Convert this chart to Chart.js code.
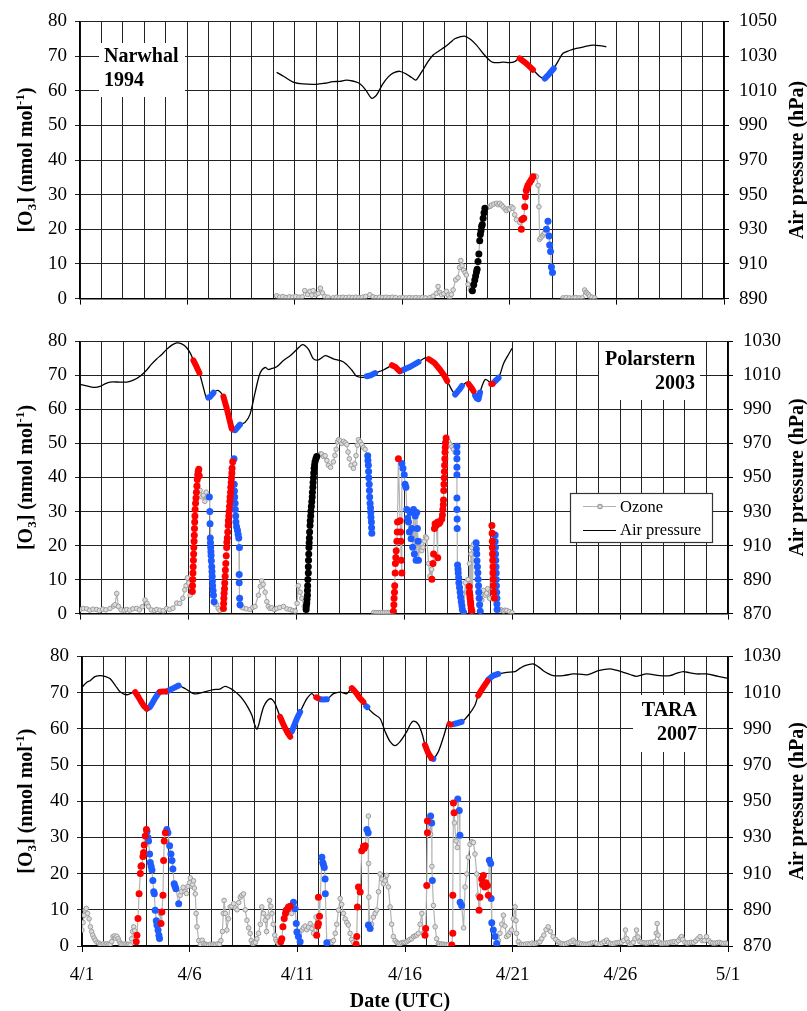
<!DOCTYPE html>
<html>
<head>
<meta charset="UTF-8">
<script src="https://cdn.jsdelivr.net/npm/chart.js"></script>
<style>
    body { margin: 0; background: #fff; width: 807px; height: 1011px; position: relative; overflow: hidden; }
    canvas { position: absolute; left: 0; }
</style>
</head>
<body>
<canvas id="narwhalChart" width="807" height="320" style="top:0px"></canvas>
<canvas id="polarsternChart" width="807" height="315" style="top:320px"></canvas>
<canvas id="taraChart" width="807" height="376" style="top:635px"></canvas>

<script>
    // x values are days after 4/1 00 UTC, ozone in nmol/mol, pressure in hPa
    const dateLabels = ['4/1', '4/6', '4/11', '4/16', '4/21', '4/26', '5/1'];

    // ---- Narwhal 1994 ----
    const narwhalPressure = [[9.16,1020.6],[9.5,1018.2],[9.93,1015],[10.4,1013.9],[11.02,1013.7],[11.4,1014.3],[11.79,1015.2],[12.1,1015.4],[12.41,1016.1],[12.7,1015.6],[12.96,1014.6],[13.15,1012.8],[13.34,1009.9],[13.58,1005.6],[13.75,1006.6],[13.89,1009],[14.1,1013.8],[14.36,1018],[14.6,1020.3],[14.9,1021.2],[15.2,1019.6],[15.45,1017.6],[15.64,1016.1],[15.8,1018.6],[15.98,1022.1],[16.2,1026.6],[16.45,1030.6],[16.7,1032.8],[17.0,1035.3],[17.25,1037.8],[17.46,1040],[17.7,1041.1],[17.92,1041.5],[18.2,1039.5],[18.47,1036.3],[18.8,1031.2],[19.09,1027.4],[19.24,1026.3],[19.5,1026.2],[19.71,1026.5],[20.0,1026.2],[20.25,1026.8],[20.48,1028.7],[20.8,1025.6],[21.1,1022.1],[21.4,1018.4],[21.65,1017],[21.85,1019.6],[22.07,1022.8],[22.3,1027.6],[22.5,1031.6],[22.8,1033.2],[23.12,1034.4],[23.5,1035.4],[23.9,1036.3],[24.2,1036],[24.52,1035.3]];
    const narwhalRedP = [[[20.48,1028.7],[20.8,1025.6],[21.1,1022.1]]];
    const narwhalBlueP = [[[21.65,1017],[21.85,1019.6],[22.07,1022.8]]];
    const narwhalOzone = [[9.16,0.8],[9.3,0.4],[9.45,0.6],[9.6,0.3],[9.75,0.5],[9.9,0.4],[10.05,0.6],[10.2,0.4],[10.35,0.5],[10.47,2.3],[10.6,1.2],[10.71,2.1],[10.8,1.0],[10.86,2.3],[11.0,1.1],[11.1,1.5],[11.2,3.0],[11.3,1.6],[11.4,0.6],[11.55,0.4],[11.79,0.2],[11.95,0.4],[12.1,0.3],[12.25,0.4],[12.4,0.3],[12.55,0.4],[12.7,0.3],[12.85,0.4],[13.0,0.3],[13.15,0.4],[13.3,0.6],[13.5,1.1],[13.65,0.5],[13.8,0.3],[13.95,0.4],[14.1,0.3],[14.25,0.4],[14.4,0.3],[14.55,0.4],[14.7,0.3],[14.9,0.2],[15.05,0.3],[15.2,0.2],[15.35,0.3],[15.5,0.2],[15.65,0.3],[15.8,0.2],[15.95,0.3],[16.1,0.2],[16.3,0.3],[16.45,0.7],[16.6,1.5],[16.68,3.5],[16.76,1.8],[16.84,1.1],[16.95,1.4],[17.07,2.1],[17.15,1.0],[17.22,0.2],[17.3,1.2],[17.38,2.5],[17.5,5.4],[17.61,6.0],[17.68,9.0],[17.74,11.0],[17.8,9.5],[17.87,8.2],[17.94,7.5],[18.0,6.8],[18.08,4.1],[18.19,2.5],[19.01,26.4],[19.1,26.6],[19.17,27.0],[19.28,27.3],[19.4,27.5],[19.48,27.1],[19.55,27.5],[19.63,27.0],[19.71,26.5],[19.8,25.9],[19.86,25.4],[19.94,25.9],[20.02,25.8],[20.1,26.5],[20.17,26.1],[20.25,24.2],[20.33,22.8],[20.48,22.0],[21.2,35.4],[21.26,35.2],[21.34,32.7],[21.38,26.5],[21.41,17.1],[21.47,17.6],[21.54,18.1],[21.6,18.6],[21.65,19.0],[22.25,null],[22.5,0.2],[22.65,0.3],[22.8,0.2],[22.97,0.2],[23.1,0.3],[23.25,0.2],[23.4,0.2],[23.51,2.5],[23.57,1.8],[23.62,1.6],[23.68,1.2],[23.74,0.7],[23.85,0.4],[23.98,0.2]];
    const narwhalRedO3 = [[20.56,20.0],[20.59,22.8],[20.67,23.2],[20.72,26.5],[20.75,29.4],[20.79,31.2],[20.83,32.0],[20.87,32.7],[20.95,33.6],[21.03,34.3],[21.1,35.2]];
    const narwhalBlueO3 = [[21.73,20.0],[21.8,22.3],[21.85,18.1],[21.88,15.5],[21.92,13.6],[21.96,9.1],[22.01,7.5]];
    const narwhalBlackO3 = [[18.28,2.3],[18.34,4.0],[18.39,5.4],[18.43,6.5],[18.47,7.7],[18.5,8.5],[18.54,10.7],[18.58,12.9],[18.62,16.7],[18.65,18.5],[18.68,19.6],[18.71,20.9],[18.74,21.4],[18.78,23.2],[18.82,24.8],[18.86,26.1]];

    // ---- Polarstern 2003 ----
    const polarPressure = [[0,1004.8],[0.31,1003.9],[0.62,1003],[0.93,1003.5],[1.15,1005],[1.39,1006.1],[1.85,1006.1],[2.16,1006.1],[2.47,1007.2],[2.78,1009.5],[3.09,1013.2],[3.3,1016.5],[3.55,1019.7],[3.8,1022.5],[4.01,1025.3],[4.25,1027.8],[4.48,1029.1],[4.71,1028.5],[4.94,1026.3],[5.13,1022.5],[5.25,1018.8],[5.4,1015],[5.53,1011.4],[5.71,1003],[5.87,996.4],[6.02,997.4],[6.18,999.8],[6.3,1001],[6.41,1001.1],[6.61,998.3],[6.79,990.8],[7.02,978.7],[7.18,977.8],[7.41,981.1],[7.64,982.4],[7.87,987.1],[8.11,1000.2],[8.34,1011.4],[8.57,1014.7],[8.72,1013.5],[8.88,1014.1],[9.11,1015.1],[9.42,1018.8],[9.73,1021.6],[10.04,1025.3],[10.31,1028.1],[10.58,1025.3],[10.81,1019.7],[11.04,1019.2],[11.35,1021.6],[11.55,1020.8],[11.73,1019.7],[12.2,1017.9],[12.58,1013.2],[12.81,1009.5],[13.12,1008.9],[13.35,1009.8],[13.66,1011.4],[14.05,1013.2],[14.3,1015],[14.44,1016],[14.6,1015],[14.8,1012.5],[15.05,1013.8],[15.29,1015.1],[15.67,1017.9],[15.98,1020.3],[16.14,1019.6],[16.4,1017.5],[16.68,1013.2],[17.0,1006.7],[17.23,1001.1],[17.39,998.7],[17.55,1001.5],[17.7,1003.9],[17.93,1006.1],[18.14,1002.4],[18.37,996.4],[18.45,996],[18.53,1000.5],[18.76,1007.6],[18.99,1005.8],[19.07,1004.4],[19.15,1005.8],[19.38,1008.6],[19.61,1017],[19.8,1021.5],[20.0,1025.9]];
    const polarRedP = [[[5.25,1018.8],[5.4,1015],[5.53,1011.4]],[[6.64,997.5],[6.79,990.8],[6.92,984],[7.02,978.7]],[[14.44,1016],[14.6,1015],[14.78,1012.7]],[[16.14,1019.6],[16.4,1017.5],[16.68,1013.2],[16.86,1010],[17.0,1006.7]],[[17.99,1005],[18.14,1002.4],[18.22,1000.8]],[[19.04,1005],[19.1,1005]]];
    const polarBlueP = [[[5.94,997],[6.02,997.4],[6.18,999.8]],[[7.1,978],[7.18,977.8],[7.41,981.1]],[[13.28,1009.5],[13.45,1010],[13.66,1011.4]],[[14.82,1012.4],[15.05,1013.8],[15.29,1015.1],[15.67,1017.9]],[[17.37,998.8],[17.55,1001.5],[17.68,1003.8]],[[18.29,998.2],[18.37,996.4],[18.45,996],[18.52,1000]],[[19.15,1005.8],[19.25,1007],[19.38,1008.6]]];
    const polarOzone = [[0,1.2],[0.15,1.5],[0.31,1.4],[0.45,1.0],[0.6,1.3],[0.77,1.2],[0.9,0.9],[1.05,1.3],[1.2,1.1],[1.39,1.5],[1.55,2.2],[1.62,2.6],[1.7,5.9],[1.78,2.1],[1.9,1.1],[2.05,0.9],[2.16,1.2],[2.3,1.0],[2.45,1.4],[2.62,1.5],[2.75,1.1],[2.88,2.0],[3.01,4.0],[3.1,3.0],[3.17,2.1],[3.3,1.1],[3.45,0.9],[3.55,1.2],[3.7,1.0],[3.85,0.8],[4.01,1.5],[4.15,1.2],[4.3,1.6],[4.48,3.1],[4.62,3.0],[4.76,4.5],[4.85,7.0],[4.91,8.2],[4.97,10.5],[5.03,9.0],[5.1,5.4],[5.56,36.2],[5.64,34.3],[5.71,34.8],[5.78,33.0],[5.84,35.7],[5.9,34.3],[6.25,2.8],[6.33,2.6],[6.4,1.5],[6.48,0.9],[7.48,1.9],[7.56,1.7],[7.7,1.4],[7.87,1.2],[8.0,1.8],[8.1,2.1],[8.26,5.4],[8.35,8.0],[8.41,9.6],[8.48,8.6],[8.57,6.3],[8.65,3.5],[8.72,2.1],[8.8,1.5],[8.88,1.7],[9.0,1.2],[9.11,1.5],[9.25,1.8],[9.42,2.1],[9.58,1.4],[9.73,1.2],[9.85,0.9],[9.96,0.7],[10.05,3.0],[10.11,8.2],[10.19,6.3],[10.27,4.5],[10.38,2.1],[11.04,46.5],[11.12,46.9],[11.19,46.9],[11.27,46.2],[11.35,46.4],[11.43,45.0],[11.5,43.6],[11.6,43.0],[11.73,44.6],[11.8,46.5],[11.86,48.3],[11.92,50.5],[11.97,51.1],[12.05,50.8],[12.12,50.0],[12.2,50.6],[12.28,50.2],[12.35,49.7],[12.41,47.5],[12.47,45.5],[12.55,43.6],[12.66,42.7],[12.72,44.0],[12.78,46.4],[12.84,49.5],[12.89,51.1],[12.97,50.5],[13.05,49.7],[13.12,48.8],[13.2,48.3],[13.55,null],[13.59,0.3],[13.7,0.3],[13.8,0.3],[13.9,0.3],[14.0,0.3],[14.1,0.3],[14.2,0.3],[14.3,0.3],[14.4,0.3],[15.75,21.3],[15.82,18.5],[15.88,19.5],[15.94,21.3],[16.0,22.6],[16.05,22.2],[16.14,14.7],[16.2,11.0],[16.28,13.0],[17.06,50.6],[17.14,49.7],[17.22,49.0],[17.29,48.3],[17.37,47.4],[17.84,9.1],[17.91,6.3],[17.97,10.0],[18.03,14.7],[18.1,17.5],[18.14,19.4],[18.22,20.3],[18.6,4.0],[18.68,6.8],[18.76,5.4],[18.82,6.0],[18.87,7.3],[18.96,4.5],[19.45,1.2],[19.53,1.0],[19.61,0.7],[19.68,1.0],[19.76,0.9],[19.88,0.6],[20.0,0.3]];
    const polarRedO3 = [[5.2,6.5],[5.21,8.2],[5.22,10],[5.23,11.9],[5.24,13.8],[5.25,15.7],[5.26,17.5],[5.27,19.4],[5.28,21.3],[5.29,23],[5.3,25],[5.31,26.9],[5.32,28.7],[5.33,30.6],[5.35,32.4],[5.37,34],[5.39,35.7],[5.41,37.5],[5.43,39.4],[5.45,40.8],[5.47,41.8],[5.5,42.4],[5.52,40.5],[6.64,1.5],[6.65,3],[6.66,4.5],[6.67,6],[6.69,7.3],[6.7,9],[6.72,11.0],[6.73,12.8],[6.75,14.7],[6.77,17],[6.79,19.4],[6.8,21],[6.82,22.2],[6.84,24],[6.86,25.9],[6.87,27.3],[6.89,28.7],[6.9,30],[6.92,31.5],[6.94,33],[6.95,34.3],[6.97,35.7],[6.98,37.1],[7.0,38.5],[7.01,39.9],[7.03,41.3],[7.04,42.7],[7.07,44.6],[14.51,0.7],[14.53,2.6],[14.54,4.5],[14.56,6.3],[14.57,8.2],[14.59,11.9],[14.6,14.7],[14.62,16.5],[14.64,18.5],[14.67,21.3],[14.69,24],[14.7,26.9],[14.74,45.5],[14.82,27.3],[14.84,24],[14.85,21.3],[14.87,15.7],[14.9,11.9],[16.29,10.1],[16.34,14.7],[16.37,17.5],[16.41,25.0],[16.44,26.4],[16.5,26.0],[16.56,16.4],[16.56,26.9],[16.62,26.5],[16.67,26.9],[16.75,27.8],[16.78,29],[16.8,30.6],[16.82,32],[16.83,33.4],[16.84,36.2],[16.85,38],[16.86,39.9],[16.87,41.8],[16.88,43.6],[16.89,45.5],[16.9,47.4],[16.91,48.8],[16.92,50.2],[16.95,51.6],[18.02,8],[18.03,6.3],[18.05,5.4],[18.06,4.5],[18.08,3.5],[18.09,2.6],[18.11,1.6],[18.14,0.7],[19.07,25.9],[19.08,23.6],[19.09,21.3],[19.09,19.4],[19.1,17.5],[19.11,15.7],[19.12,13.8],[19.12,12],[19.13,10.1],[19.14,8.2],[19.15,6.3],[19.18,4.5]];
    const polarBlueO3 = [[5.99,34.3],[6.01,30],[6.02,26.4],[6.03,22.2],[6.04,20.8],[6.05,19.4],[6.06,18.2],[6.07,17.1],[6.08,15.5],[6.1,13.8],[6.11,12.4],[6.12,11.0],[6.13,9.6],[6.14,8.2],[6.16,6.8],[6.18,5.4],[6.21,3.5],[7.13,45.5],[7.14,38.0],[7.15,36],[7.16,34.3],[7.18,32.4],[7.19,30.6],[7.21,28.7],[7.22,26.9],[7.25,25.5],[7.29,24.5],[7.32,23.3],[7.35,22.2],[7.38,19.4],[7.37,11.5],[7.37,9.1],[7.39,4.5],[7.41,2.6],[13.32,46.4],[13.33,45],[13.35,43.6],[13.36,41.8],[13.37,39.9],[13.39,38],[13.4,36.2],[13.41,34.3],[13.43,32.4],[13.45,31],[13.46,29.7],[13.47,28.3],[13.49,26.9],[13.5,25.2],[13.51,23.6],[14.9,44.1],[14.95,42.7],[15.01,40.8],[15.05,38.0],[15.09,37.1],[15.13,30.6],[15.17,28.0],[15.21,26.9],[15.25,24.0],[15.29,29.7],[15.33,22.0],[15.36,25.0],[15.4,19.5],[15.44,30.6],[15.48,17.5],[15.52,28.7],[15.56,15.7],[15.59,29.7],[15.62,25.0],[15.65,21.3],[15.67,15.7],[17.45,49.2],[17.45,47.4],[17.45,45.5],[17.45,43],[17.45,40.8],[17.45,34],[17.45,30.6],[17.46,27.8],[17.46,25.0],[17.48,14.3],[17.5,13],[17.51,11.9],[17.53,10.5],[17.54,9.1],[17.57,7.7],[17.6,6.3],[17.62,4.9],[17.65,3.5],[17.68,2.3],[17.7,1.2],[17.76,0.3],[18.34,20.8],[18.35,19],[18.37,17.5],[18.38,15.5],[18.4,13.8],[18.42,12],[18.43,10.1],[18.45,8.2],[18.46,6.3],[18.48,4.5],[18.5,2.6],[18.53,0.7],[19.22,23.1],[19.22,21.2],[19.23,19.4],[19.24,17.5],[19.25,15.7],[19.26,13.8],[19.27,11.9],[19.27,10],[19.28,8.2],[19.29,6.3],[19.3,4.5],[19.3,2.8],[19.31,1.2]];
    const polarBlackO3 = [[10.47,1.2],[10.48,2.2],[10.5,3.1],[10.51,4.2],[10.53,5.4],[10.53,6.8],[10.54,8.2],[10.55,10],[10.57,11.9],[10.57,13.8],[10.58,15.7],[10.59,17.5],[10.6,19.4],[10.61,20.8],[10.62,22.2],[10.63,24],[10.65,25.9],[10.66,27.3],[10.68,28.7],[10.69,30.1],[10.71,31.5],[10.73,32.9],[10.75,34.3],[10.76,35.7],[10.78,37.1],[10.79,38.5],[10.81,39.9],[10.82,41.3],[10.84,42.7],[10.86,43.7],[10.88,44.6],[10.92,45.5],[10.96,46.2]];

    // ---- TARA 2007 ----
    const taraPressure = [[0,1013],[0.2,1015.5],[0.39,1016.7],[0.6,1018.8],[0.85,1019.4],[1.1,1018.8],[1.31,1017.6],[1.55,1013.9],[1.78,1010.3],[2.09,1008.8],[2.4,1010.3],[2.47,1010.3],[2.71,1005.7],[3.02,1001.1],[3.25,1003.9],[3.56,1009.9],[3.79,1010.6],[3.94,1010.6],[4.25,1012.5],[4.49,1013.9],[4.8,1012.1],[5.18,1009.4],[5.4,1009.5],[5.65,1010.3],[6.11,1011.7],[6.4,1011.9],[6.65,1013.4],[7.04,1011.2],[7.3,1008.5],[7.5,1005.7],[7.7,1002],[7.89,997.5],[8.0,993],[8.12,989.8],[8.2,992],[8.28,995.7],[8.43,1002.1],[8.6,1005.5],[8.74,1006.6],[8.85,1006],[8.97,1003.9],[9.2,996.6],[9.44,990.2],[9.67,985.6],[9.74,988.4],[9.98,995.7],[10.13,999.3],[10.3,1003.5],[10.44,1006.6],[10.67,1009.4],[10.83,1007.5],[11.06,1006.3],[11.37,1006.3],[11.68,1009.4],[11.99,1010.3],[12.3,1009.4],[12.53,1012.5],[12.76,1009.4],[13.07,1004.8],[13.23,1002.1],[13.53,998.4],[13.84,995.7],[14.08,988.4],[14.31,982.9],[14.54,980.7],[14.77,982.9],[15.08,988.4],[15.25,992.5],[15.39,994.2],[15.62,992.5],[15.8,987],[15.93,981],[16.08,976.5],[16.24,973.7],[16.32,973.4],[16.55,977.4],[16.79,985.6],[17.01,993.8],[17.09,992.4],[17.32,992.9],[17.63,993.8],[17.94,997.5],[18.25,1003],[18.4,1008.4],[18.64,1013],[18.83,1016.7],[19.1,1019.4],[19.33,1020.3],[19.72,1021.2],[20.11,1021.6],[20.35,1023.5],[20.57,1024.9],[20.96,1025.8],[21.2,1024.2],[21.42,1022.1],[21.65,1020.5],[21.88,1019.4],[22.35,1019.4],[22.81,1020.3],[23.1,1020.2],[23.43,1019.8],[23.7,1020.8],[23.98,1022.1],[24.51,1023.1],[24.8,1022.4],[25.13,1021.2],[25.45,1020],[25.75,1019],[26.22,1020.3],[26.83,1019.4],[27.3,1019.4],[27.6,1020.6],[27.92,1021.6],[28.2,1021],[28.54,1020.3],[29.0,1020.3],[29.54,1019],[30,1017.9]];
    const taraRedP = [[[2.47,1010.3],[2.6,1008],[2.71,1005.7],[2.85,1003],[3.0,1001.2]],[[3.63,1010.5],[3.79,1010.6],[3.87,1010.6]],[[9.2,996.6],[9.32,993.2],[9.44,990.2],[9.56,987.5],[9.67,985.6]],[[10.88,1007.4],[10.95,1007]],[[12.53,1012.5],[12.65,1011],[12.76,1009.4],[12.9,1007],[13.07,1004.8]],[[15.93,981],[16.08,976.5],[16.22,973.9]],[[17.07,992.6],[17.12,992.3]],[[18.4,1008.4],[18.52,1010.8],[18.64,1013],[18.75,1015],[18.83,1016.3]]];
    const taraBlueP = [[[3.02,1001.1],[3.15,1002],[3.25,1003.9],[3.4,1007],[3.56,1009.9]],[[3.94,1010.6],[4.1,1011.6],[4.25,1012.5],[4.49,1013.9]],[[9.74,988.4],[9.86,992],[9.98,995.7],[10.13,999.3]],[[11.06,1006.3],[11.2,1006.2],[11.37,1006.3]],[[13.2,1002.5],[13.25,1002]],[[16.24,973.7],[16.32,973.4]],[[17.25,992.6],[17.45,993.2],[17.63,993.8]],[[18.87,1017.2],[19.0,1018.5],[19.1,1019.4],[19.33,1020.3]]];
    const taraOzone = [[0,4.4],[0.05,6.5],[0.1,8.5],[0.15,9.9],[0.2,10.4],[0.26,9.0],[0.33,7.5],[0.39,5.3],[0.45,4.0],[0.5,3.0],[0.56,2.2],[0.62,1.6],[0.7,1.0],[0.78,0.8],[0.85,0.5],[0.93,0.4],[1.0,0.6],[1.08,0.4],[1.15,0.6],[1.23,0.5],[1.31,0.5],[1.38,1.2],[1.44,2.6],[1.5,2.8],[1.55,2.2],[1.62,2.7],[1.68,2.0],[1.73,1.3],[1.78,0.7],[1.86,0.5],[1.95,0.5],[2.03,0.6],[2.1,0.4],[2.17,0.5],[2.24,0.3],[2.3,2.0],[2.35,4.0],[2.4,5.3],[2.45,4.2],[3.63,9.0],[4.56,14.0],[4.62,15.0],[4.7,16.2],[4.78,15.0],[4.85,14.5],[4.92,16.5],[5.0,17.5],[5.03,18.8],[5.1,16.5],[5.14,17.0],[5.18,18.0],[5.22,16.0],[5.26,14.4],[5.3,9.0],[5.34,5.3],[5.42,1.5],[5.5,0.5],[5.58,1.6],[5.65,0.7],[5.72,0.5],[5.8,0.4],[5.88,0.3],[5.96,0.5],[6.05,0.4],[6.13,0.5],[6.21,0.4],[6.3,0.6],[6.38,0.5],[6.45,1.5],[6.52,4.0],[6.56,9.0],[6.6,12.6],[6.66,9.0],[6.73,4.4],[6.8,7.5],[6.88,10.8],[6.96,11.0],[7.04,11.7],[7.12,10.5],[7.2,10.0],[7.28,12.0],[7.35,13.5],[7.42,14.0],[7.5,14.4],[7.58,10.0],[7.66,7.1],[7.74,5.0],[7.81,3.5],[7.86,1.5],[7.92,0.7],[7.98,0.8],[8.05,1.0],[8.12,2.0],[8.2,3.5],[8.28,6.0],[8.35,10.8],[8.43,9.0],[8.51,7.1],[8.57,4.0],[8.63,8.0],[8.71,12.6],[8.77,11.0],[8.82,9.0],[8.88,6.0],[8.95,3.0],[9.0,1.8],[9.05,1.2],[9.12,0.8],[9.74,9.0],[10.21,4.4],[10.28,5.0],[10.36,5.5],[10.44,4.5],[10.52,5.2],[10.6,6.2],[10.68,4.8],[10.75,3.5],[10.82,5.5],[10.87,8.0],[11.45,1.0],[11.52,1.2],[11.6,1.0],[11.68,1.5],[11.76,3.5],[11.83,6.0],[11.91,9.9],[11.99,13.1],[12.06,11.5],[12.14,9.0],[12.22,7.5],[12.3,6.5],[12.37,5.8],[12.45,3.5],[12.52,1.8],[12.6,1.0],[13.3,35.9],[13.31,22.8],[13.32,13.5],[13.45,6.0],[13.53,8.0],[13.61,9.0],[13.69,9.9],[13.77,15.0],[13.84,19.9],[13.92,18.5],[14.0,17.2],[14.08,18.0],[14.15,19.5],[14.23,16.3],[14.31,10.8],[14.38,6.0],[14.46,2.6],[14.54,1.5],[14.62,1.0],[14.69,0.7],[14.77,0.7],[14.85,0.9],[14.93,1.0],[15.0,1.0],[15.08,1.2],[15.15,1.5],[15.23,1.8],[15.31,2.0],[15.39,2.6],[15.47,2.8],[15.55,3.0],[15.62,3.5],[15.7,6.0],[15.78,9.0],[15.85,3.5],[16.19,30.9],[16.25,22.0],[16.32,11.2],[16.4,5.3],[16.47,2.0],[16.55,0.7],[16.62,0.6],[16.7,0.5],[16.78,0.5],[16.86,0.4],[16.94,0.4],[17.01,0.3],[17.3,34.0],[17.37,29.0],[17.43,27.2],[17.72,5.0],[17.79,16.3],[17.87,19.9],[17.94,24.5],[18.02,28.1],[18.1,28.8],[18.18,28.6],[18.25,25.4],[18.33,19.9],[18.39,14.0],[19.34,1.5],[19.41,3.5],[19.49,6.0],[19.57,8.5],[19.64,5.5],[19.72,2.6],[19.8,3.0],[19.88,3.8],[19.95,4.4],[20.03,7.5],[20.11,10.8],[20.15,7.0],[20.18,3.5],[20.26,1.2],[20.34,0.3],[20.42,0.5],[20.5,0.4],[20.6,0.5],[20.7,0.6],[20.8,0.5],[20.9,0.8],[21.0,0.6],[21.1,0.8],[21.2,1.0],[21.27,1.2],[21.35,2.0],[21.45,3.0],[21.55,4.5],[21.65,5.3],[21.75,4.0],[21.88,2.6],[22.0,1.8],[22.11,1.2],[22.2,0.8],[22.3,0.6],[22.4,0.5],[22.5,0.7],[22.6,0.9],[22.7,1.2],[22.81,1.6],[22.9,1.0],[23.0,0.8],[23.1,0.8],[23.2,0.6],[23.3,0.5],[23.4,0.5],[23.5,0.5],[23.6,0.7],[23.7,0.9],[23.8,1.0],[23.9,0.7],[24.05,0.5],[24.15,0.8],[24.25,1.2],[24.36,1.6],[24.45,1.0],[24.55,0.7],[24.65,0.6],[24.75,0.8],[24.85,0.9],[24.95,1.0],[25.05,1.0],[25.15,1.5],[25.24,4.4],[25.3,2.0],[25.37,1.0],[25.44,0.5],[25.52,0.7],[25.6,1.0],[25.68,2.0],[25.75,4.4],[25.82,2.5],[25.9,1.2],[26.0,1.0],[26.1,0.9],[26.2,0.8],[26.3,0.9],[26.4,1.0],[26.5,1.0],[26.6,1.2],[26.67,3.5],[26.71,6.2],[26.75,3.0],[26.82,1.0],[26.9,0.7],[27.0,0.8],[27.1,0.8],[27.2,0.8],[27.3,1.0],[27.4,1.1],[27.5,1.2],[27.6,1.0],[27.7,1.5],[27.78,2.2],[27.84,2.6],[27.9,1.8],[28.0,1.0],[28.1,0.8],[28.2,0.9],[28.3,1.0],[28.4,1.0],[28.5,1.4],[28.6,2.0],[28.7,2.6],[28.8,1.5],[28.9,1.5],[29.0,2.6],[29.1,1.5],[29.2,1.0],[29.3,0.8],[29.4,0.8],[29.5,0.9],[29.6,1.0],[29.7,0.8],[29.8,0.7],[29.9,0.8],[30.0,0.7]];
    const taraRedO3 = [[2.52,1.2],[2.55,3.0],[2.6,7.6],[2.65,14.4],[2.71,20.0],[2.74,22.0],[2.77,22.2],[2.83,24.7],[2.86,25.8],[2.89,27.9],[2.94,30.4],[2.99,32.2],[3.67,6.2],[3.71,9.4],[3.76,14.0],[3.79,23.6],[3.82,29.0],[3.87,31.3],[9.23,1.2],[9.28,2.0],[9.33,5.3],[9.39,7.6],[9.45,9.0],[9.48,9.9],[9.55,10.3],[9.59,10.8],[9.67,11.0],[10.9,3.0],[10.95,5.5],[10.98,6.2],[11.03,8.2],[10.98,13.5],[12.73,0.5],[12.76,2.6],[12.79,10.8],[12.84,16.3],[12.92,14.9],[12.99,26.3],[13.07,27.5],[13.11,27.0],[13.15,27.7],[15.93,3.0],[15.96,4.8],[16.01,16.7],[16.04,31.3],[16.04,34.5],[17.17,0.3],[17.22,3.5],[17.22,14.0],[17.25,39.5],[17.28,36.8],[18.44,9.9],[18.48,13.5],[18.56,18.5],[18.6,17.0],[18.64,19.5],[18.71,16.3],[18.76,17.5],[18.83,16.7],[18.87,14.0]];
    const taraBlueO3 = [[3.02,31.6],[3.06,30.0],[3.09,29.0],[3.14,25.4],[3.17,23.1],[3.21,22.0],[3.25,21.0],[3.29,18.1],[3.33,15.0],[3.36,14.4],[3.4,9.9],[3.45,7.0],[3.48,5.8],[3.53,4.4],[3.57,3.0],[3.6,2.1],[3.94,32.2],[3.99,31.3],[4.07,27.7],[4.13,25.4],[4.18,23.6],[4.22,21.3],[4.28,17.2],[4.32,16.5],[4.36,15.8],[4.49,11.7],[9.82,12.1],[9.9,10.3],[9.95,6.2],[9.98,3.9],[10.05,2.6],[10.13,1.2],[11.14,24.5],[11.18,23.1],[11.21,22.5],[11.25,21.7],[11.29,18.5],[11.3,14.4],[11.37,0.9],[13.23,32.2],[13.29,31.3],[13.3,5.8],[13.38,4.8],[16.19,35.9],[16.24,34.0],[16.27,18.1],[17.45,40.6],[17.52,37.4],[17.55,30.6],[17.56,12.1],[17.63,11.2],[18.92,23.7],[18.98,22.8],[19.0,13.1],[19.03,6.4],[19.1,4.4],[19.18,2.6],[19.26,0.7]];

    const RED = '#ff0000';
    const BLUE = '#1f5cff';
    const SERIF = '"Liberation Serif", "Times New Roman", serif';
    Chart.defaults.font.family = SERIF;

    function toPts(arr) {
        return arr.map(d => ({ x: d[0], y: d[1] }));
    }

    function joinSegments(segs) {
        const out = [];
        segs.forEach(seg => {
            seg.forEach(d => out.push({ x: d[0], y: d[1] }));
            out.push({ x: seg[seg.length - 1][0], y: null });
        });
        return out;
    }

    function drawO3Title(ctx, cx, cy) {
        const big = 'bold 20px ' + SERIF, small = 'bold 13px ' + SERIF;
        const parts = [['[O', big, 0], ['3', small, 4], ['] (nmol mol', big, 0], ['-1', small, -8], [')', big, 0]];
        ctx.save();
        ctx.translate(cx, cy);
        ctx.rotate(-Math.PI / 2);
        ctx.fillStyle = '#000';
        ctx.textBaseline = 'alphabetic';
        ctx.textAlign = 'left';
        let w = 0;
        parts.forEach(p => { ctx.font = p[1]; w += ctx.measureText(p[0]).width; });
        let x = -w / 2;
        parts.forEach(p => {
            ctx.font = p[1];
            ctx.fillText(p[0], x, 7 + p[2]);
            x += ctx.measureText(p[0]).width;
        });
        ctx.restore();
    }

    const deco = {
        id: 'deco',
        afterDraw(chart, args, o) {
            const ctx = chart.ctx, a = chart.chartArea;
            const cy = (a.top + a.bottom) / 2;
            drawO3Title(ctx, 25, cy);

            ctx.save();
            ctx.fillStyle = '#000';
            ctx.translate(798, cy);
            ctx.rotate(-Math.PI / 2);
            ctx.font = 'bold 20px ' + SERIF;
            ctx.textAlign = 'center';
            ctx.textBaseline = 'middle';
            ctx.fillText('Air pressure (hPa)', 0, 0);
            ctx.restore();

            // station label
            const b = o.box;
            ctx.save();
            ctx.fillStyle = '#fff';
            ctx.fillRect(b[0], b[1], b[2], b[3]);
            ctx.fillStyle = '#000';
            ctx.font = 'bold 20px ' + SERIF;
            ctx.textAlign = o.align;
            ctx.textBaseline = 'alphabetic';
            o.lines.forEach((t, i) => ctx.fillText(t, o.tx, o.ty + i * 24));
            ctx.restore();

            if (o.legend) {
                ctx.save();
                ctx.fillStyle = '#fff';
                ctx.fillRect(570, 173, 142, 49);
                ctx.strokeStyle = '#333';
                ctx.lineWidth = 1.2;
                ctx.strokeRect(570.5, 173.5, 142, 49);
                ctx.strokeStyle = '#b3b3b3';
                ctx.beginPath(); ctx.moveTo(583, 186.5); ctx.lineTo(616, 186.5); ctx.stroke();
                ctx.fillStyle = '#dcdcdc';
                ctx.strokeStyle = '#9c9c9c';
                ctx.beginPath(); ctx.arc(600, 186.5, 2.2, 0, Math.PI * 2); ctx.fill(); ctx.stroke();
                ctx.strokeStyle = '#000';
                ctx.beginPath(); ctx.moveTo(583, 210.5); ctx.lineTo(616, 210.5); ctx.stroke();
                ctx.fillStyle = '#000';
                ctx.font = '16.5px ' + SERIF;
                ctx.textAlign = 'left';
                ctx.fillText('Ozone', 620, 192);
                ctx.fillText('Air pressure', 620, 215);
                ctx.restore();
            }

            if (o.dateTitle) {
                ctx.save();
                ctx.fillStyle = '#000';
                ctx.font = 'bold 20px ' + SERIF;
                ctx.textAlign = 'center';
                ctx.textBaseline = 'alphabetic';
                ctx.fillText('Date (UTC)', 400, 372);
                ctx.restore();
            }
        }
    };

    function buildPanel(id, cfg) {
        const ozoneLine = cfg.ozone.concat(cfg.red, cfg.blue, cfg.black).sort((a, b) => a[0] - b[0]);
        const dotStyle = color => ({ showLine: false, pointRadius: 3.5, pointBorderWidth: 0, pointBackgroundColor: color, yAxisID: 'y' });
        const thickStyle = color => ({ borderColor: color, borderWidth: 6, borderCapStyle: 'round', borderJoinStyle: 'round', pointRadius: 0, yAxisID: 'yP', spanGaps: false });

        new Chart(document.getElementById(id), {
            type: 'line',
            data: {
                datasets: [
                    Object.assign({ data: toPts(cfg.red) }, dotStyle(RED)),
                    Object.assign({ data: toPts(cfg.blue) }, dotStyle(BLUE)),
                    Object.assign({ data: toPts(cfg.black) }, dotStyle('#000')),
                    Object.assign({ data: joinSegments(cfg.redP) }, thickStyle(RED)),
                    Object.assign({ data: joinSegments(cfg.blueP) }, thickStyle(BLUE)),
                    { data: toPts(cfg.pressure), borderColor: '#000', borderWidth: 1.3, pointRadius: 0, tension: 0.3, yAxisID: 'yP' },
                    { data: toPts(ozoneLine), borderColor: '#b3b3b3', borderWidth: 1.2, pointRadius: 2.3, pointBorderWidth: 1,
                      pointBorderColor: '#9c9c9c', pointBackgroundColor: '#dcdcdc', yAxisID: 'y', spanGaps: false }
                ]
            },
            options: {
                responsive: false,
                devicePixelRatio: 1,
                animation: false,
                events: [],
                layout: { padding: { top: cfg.top, left: 0, right: 0, bottom: 0 } },
                plugins: {
                    legend: { display: false },
                    tooltip: { enabled: false },
                    deco: cfg.deco
                },
                scales: {
                    x: {
                        type: 'linear', min: 0, max: 30,
                        afterFit: s => { s.height = cfg.xh; },
                        ticks: {
                            stepSize: 1, autoSkip: false, maxRotation: 0, padding: 12, color: '#000', font: { size: 19 },
                            callback: v => (cfg.dates && v % 5 === 0) ? dateLabels[v / 5] : ''
                        },
                        grid: {
                            color: '#222', tickLength: 6,
                            tickColor: c => (c.tick && c.tick.value % 5 === 0) ? '#000' : 'rgba(0,0,0,0)'
                        },
                        border: { color: '#000', width: 1.5 }
                    },
                    y: {
                        position: 'left', min: 0, max: 80,
                        afterFit: s => { s.width = cfg.left; },
                        ticks: { stepSize: 10, padding: 8, color: '#000', font: { size: 19 }, callback: v => String(v) },
                        grid: { color: '#222', tickLength: 5 },
                        border: { color: '#000', width: 1.5 }
                    },
                    yP: {
                        position: 'right', min: cfg.pMin, max: cfg.pMax,
                        afterFit: s => { s.width = 807 - cfg.right; },
                        ticks: { stepSize: 20, padding: 10, color: '#000', font: { size: 19 }, callback: v => String(v) },
                        grid: { drawOnChartArea: false, color: '#000', tickLength: 5 },
                        border: { color: '#000', width: 1.5 }
                    }
                }
            },
            plugins: [deco]
        });
    }

    buildPanel('narwhalChart', {
        ozone: narwhalOzone, red: narwhalRedO3, blue: narwhalBlueO3, black: narwhalBlackO3,
        pressure: narwhalPressure, redP: narwhalRedP, blueP: narwhalBlueP,
        pMin: 890, pMax: 1050, top: 17, xh: 19, left: 80, right: 724, dates: false,
        deco: { box: [99, 43, 86, 54], lines: ['Narwhal', '1994'], align: 'left', tx: 104, ty: 62 }
    });

    buildPanel('polarsternChart', {
        ozone: polarOzone, red: polarRedO3, blue: polarBlueO3, black: polarBlackO3,
        pressure: polarPressure, redP: polarRedP, blueP: polarBlueP,
        pMin: 870, pMax: 1030, top: 13, xh: 16, left: 80, right: 728, dates: false,
        deco: { box: [599, 22, 101, 58], lines: ['Polarstern', '2003'], align: 'right', tx: 695, ty: 45, legend: true }
    });

    buildPanel('taraChart', {
        ozone: taraOzone, red: taraRedO3, blue: taraBlueO3, black: [],
        pressure: taraPressure, redP: taraRedP, blueP: taraBlueP,
        pMin: 870, pMax: 1030, top: 19, xh: 65, left: 82, right: 728, dates: true,
        deco: { box: [633, 60, 65, 57], lines: ['TARA', '2007'], align: 'right', tx: 697, ty: 81, dateTitle: true }
    });
</script>
</body>
</html>
